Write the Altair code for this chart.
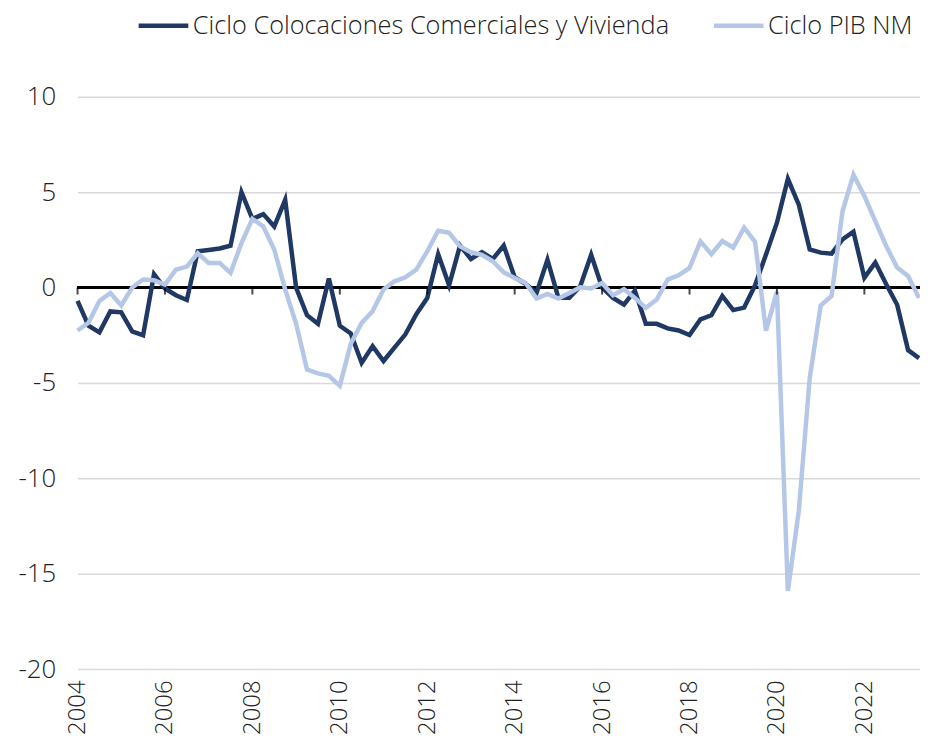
import altair as alt
import pandas as pd

start_year = 2004
series_names = ["Ciclo Colocaciones Comerciales y Vivienda", "Ciclo PIB NM"]
series_colors = ["#1F3864", "#B4C7E7"]

colocaciones = [
    -0.7, -2.0, -2.35, -1.25, -1.3, -2.3, -2.5, 0.7,
    -0.05, -0.4, -0.65, 1.9, 1.97, 2.05, 2.2, 5.0,
    3.6, 3.85, 3.2, 4.6, 0.0, -1.45, -1.9, 0.48,
    -2.0, -2.4, -3.95, -3.07, -3.85, -3.15, -2.45, -1.4,
    -0.55, 1.75, 0.12, 2.2, 1.5, 1.86, 1.5, 2.2,
    0.54, 0.19, -0.28, 1.46, -0.54, -0.54, 0.07, 1.72,
    0.0, -0.54, -0.89, -0.16, -1.9, -1.9, -2.14, -2.25,
    -2.49, -1.67, -1.45, -0.44, -1.18, -1.05, 0.12, 1.74,
    3.4, 5.7, 4.35, 2.0, 1.83, 1.78, 2.53, 2.93,
    0.52, 1.31, 0.17, -0.9, -3.28, -3.7,
]

pib_nm = [
    -2.25, -1.85, -0.7, -0.28, -0.94, 0.0, 0.42, 0.38,
    0.16, 0.94, 1.1, 1.8, 1.29, 1.29, 0.77, 2.33,
    3.6, 3.2, 2.0, -0.1, -1.9, -4.3, -4.5, -4.63,
    -5.15, -2.95, -1.85, -1.24, -0.1, 0.33, 0.54, 0.94,
    1.9, 2.98, 2.87, 2.16, 1.85, 1.72, 1.38, 0.8,
    0.5, 0.24, -0.57, -0.33, -0.57, -0.28, 0.02, -0.05,
    0.24, -0.4, -0.09, -0.54, -1.06, -0.63, 0.42, 0.64,
    1.03, 2.42, 1.75, 2.44, 2.09, 3.14, 2.4, -2.26,
    -0.21, -15.9, -11.7, -4.75, -0.94, -0.44, 4.0, 5.92,
    4.8, 3.48, 2.18, 1.05, 0.61, -0.55,
]

x_tick_years = [2004, 2006, 2008, 2010, 2012, 2014, 2016, 2018, 2020, 2022]
y_tick_values = [10, 5, 0, -5, -10, -15, -20]

rows = []
for name, values in zip(series_names, [colocaciones, pib_nm]):
    for i, v in enumerate(values):
        rows.append({"t": start_year + i / 4, "serie": name, "v": v})
df = pd.DataFrame(rows)

FONT = "Open Sans"
TEXT = "#222222"
W, H = 848, 576

x_scale = alt.Scale(domain=[2004, 2004 + W / 44], nice=False, zero=False)
y_scale = alt.Scale(domain=[-20, 10], nice=False, zero=False)

x_enc = alt.X(
    "t:Q",
    scale=x_scale,
    axis=alt.Axis(
        values=x_tick_years, format="d", labelAngle=-90, labelFontSize=24,
        labelPadding=11, grid=False, ticks=False, domain=False, title=None,
        labelFont=FONT, labelColor=TEXT, labelFlush=False, labelOverlap=False,
        labelFontWeight=300,
    ),
)
y_enc = alt.Y(
    "v:Q",
    scale=y_scale,
    axis=alt.Axis(
        values=y_tick_values, grid=True, gridColor="#D9D9D9", gridWidth=1.5,
        ticks=False, domain=False, labelFontSize=26, labelPadding=22,
        labelExpr="'' + datum.value", title=None, labelFont=FONT,
        labelColor=TEXT, labelFontWeight=300,
    ),
)

lines = alt.Chart(df).mark_line(strokeWidth=4.5).encode(
    x=x_enc,
    y=y_enc,
    color=alt.Color(
        "serie:N",
        scale=alt.Scale(domain=series_names, range=series_colors),
        legend=alt.Legend(
            title=None, orient="none", legendX=59, legendY=-99,
            direction="horizontal", symbolType="stroke", symbolSize=2500,
            symbolStrokeWidth=4.5, labelFontSize=25.5, labelFont=FONT,
            labelColor=TEXT, columnPadding=35, labelOffset=2,
            labelFontWeight=300, labelLimit=700,
        ),
    ),
)

zero_rule = alt.Chart(df).mark_rule(color="black", strokeWidth=2).encode(
    y=alt.datum(0, scale=y_scale)
)

ticks = alt.Chart(pd.DataFrame({"t": x_tick_years})).mark_tick(
    orient="vertical", color="black", thickness=2, size=7, yOffset=3.5
).encode(x=alt.X("t:Q", scale=x_scale), y=alt.datum(0))

chart = (
    alt.layer(zero_rule, lines, ticks)
    .properties(
        width=W, height=H,
        autosize=alt.AutoSizeParams(type="none"),
        padding={"left": 70, "top": 87, "right": 0, "bottom": 70},
        background="white",
    )
    .configure_view(stroke=None)
)

chart.save("out.html", embed_options={"renderer": "svg", "actions": False})
